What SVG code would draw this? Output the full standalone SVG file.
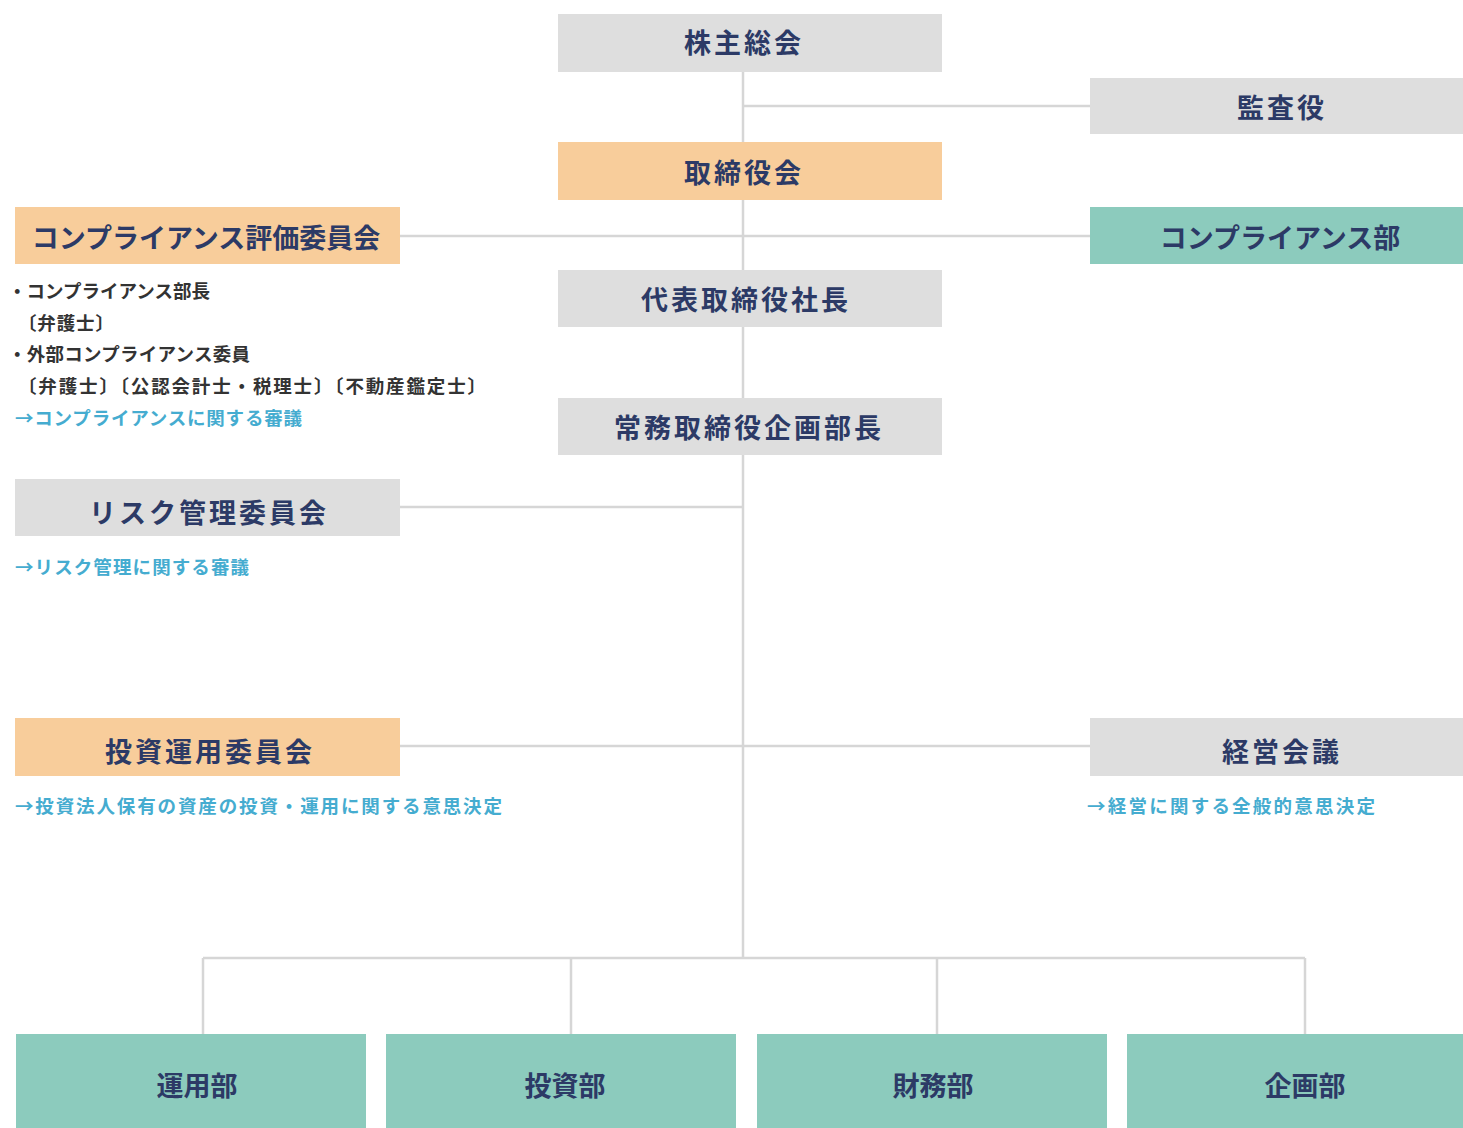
<svg xmlns="http://www.w3.org/2000/svg" width="1463" height="1128" viewBox="0 0 1463 1128">
<style>
.gray{fill:#dedede}
.orange{fill:#f8cd9b}
.teal{fill:#8ccbbd}
.lbl{font-family:"Noto Sans CJK JP","Noto Sans",sans-serif;font-weight:700;font-size:27px;fill:#2c3a66;text-anchor:middle;dominant-baseline:central;letter-spacing:3px}
.lbl2{letter-spacing:0px}
.note{font-family:"Noto Sans CJK JP","Noto Sans",sans-serif;font-weight:700;font-size:18.5px;fill:#333}
.blue{fill:#45acd0}
.conn{stroke:#d6d6d6;stroke-width:2.5;fill:none}
</style>
<rect width="1463" height="1128" fill="#ffffff"/>
<g id="connectors">
<path class="conn" d="M743 72V958"/>
<path class="conn" d="M743 106H1090"/>
<path class="conn" d="M400 236H1090"/>
<path class="conn" d="M400 507H743"/>
<path class="conn" d="M400 746H1090"/>
<path class="conn" d="M203 958H1305"/>
<path class="conn" d="M203 958V1034M571 958V1034M937 958V1034M1305 958V1034"/>
</g>
<g id="kabunushi"><rect class="gray" x="558" y="14" width="384" height="58"/><text class="lbl" x="744" y="41">株主総会</text></g>
<g id="kansayaku"><rect class="gray" x="1090" y="78" width="373" height="56"/><text class="lbl" x="1282" y="106">監査役</text></g>
<g id="torishimariyakukai"><rect class="orange" x="558" y="142" width="384" height="58"/><text class="lbl" x="744" y="171">取締役会</text></g>
<g id="compliance-hyoka"><rect class="orange" x="15" y="207" width="385" height="57"/><text class="lbl lbl2" x="206" y="236">コンプライアンス評価委員会</text></g>
<g id="compliance-bu"><rect class="teal" x="1090" y="207" width="373" height="57"/><text class="lbl lbl2" x="1280" y="236">コンプライアンス部</text></g>
<g id="shacho"><rect class="gray" x="558" y="270" width="384" height="57"/><text class="lbl" x="746" y="298">代表取締役社長</text></g>
<g id="jomu"><rect class="gray" x="558" y="398" width="384" height="57"/><text class="lbl" x="749" y="426">常務取締役企画部長</text></g>
<g id="risk"><rect class="gray" x="15" y="479" width="385" height="57"/><text class="lbl" x="209" y="511">リスク管理委員会</text></g>
<g id="toshi-unyo"><rect class="orange" x="15" y="718" width="385" height="58"/><text class="lbl" x="210" y="750">投資運用委員会</text></g>
<g id="keiei"><rect class="gray" x="1090" y="718" width="373" height="58"/><text class="lbl" x="1282" y="750">経営会議</text></g>
<g id="unyobu"><rect class="teal" x="16" y="1034" width="350" height="94"/><text class="lbl lbl2" x="197" y="1084">運用部</text></g>
<g id="toshibu"><rect class="teal" x="386" y="1034" width="350" height="94"/><text class="lbl lbl2" x="565" y="1084">投資部</text></g>
<g id="zaimubu"><rect class="teal" x="757" y="1034" width="350" height="94"/><text class="lbl lbl2" x="933" y="1084">財務部</text></g>
<g id="kikakubu"><rect class="teal" x="1127" y="1034" width="336" height="94"/><text class="lbl lbl2" x="1305" y="1084">企画部</text></g>
<g id="notes">
<text class="note" x="8" y="298" textLength="202" lengthAdjust="spacing">・コンプライアンス部長</text>
<text class="note" x="18" y="330" textLength="96" lengthAdjust="spacing">〔弁護士〕</text>
<text class="note" x="8" y="361" textLength="242" lengthAdjust="spacing">・外部コンプライアンス委員</text>
<text class="note" x="18" y="393" textLength="468" lengthAdjust="spacing">〔弁護士〕〔公認会計士・税理士〕〔不動産鑑定士〕</text>
<text class="note blue" x="15" y="425" textLength="287" lengthAdjust="spacing">→コンプライアンスに関する審議</text>
<text class="note blue" x="15" y="574" textLength="234" lengthAdjust="spacing">→リスク管理に関する審議</text>
<text class="note blue" x="15" y="813" textLength="487" lengthAdjust="spacing">→投資法人保有の資産の投資・運用に関する意思決定</text>
<text class="note blue" x="1087" y="813" textLength="288" lengthAdjust="spacing">→経営に関する全般的意思決定</text>
</g>
</svg>
